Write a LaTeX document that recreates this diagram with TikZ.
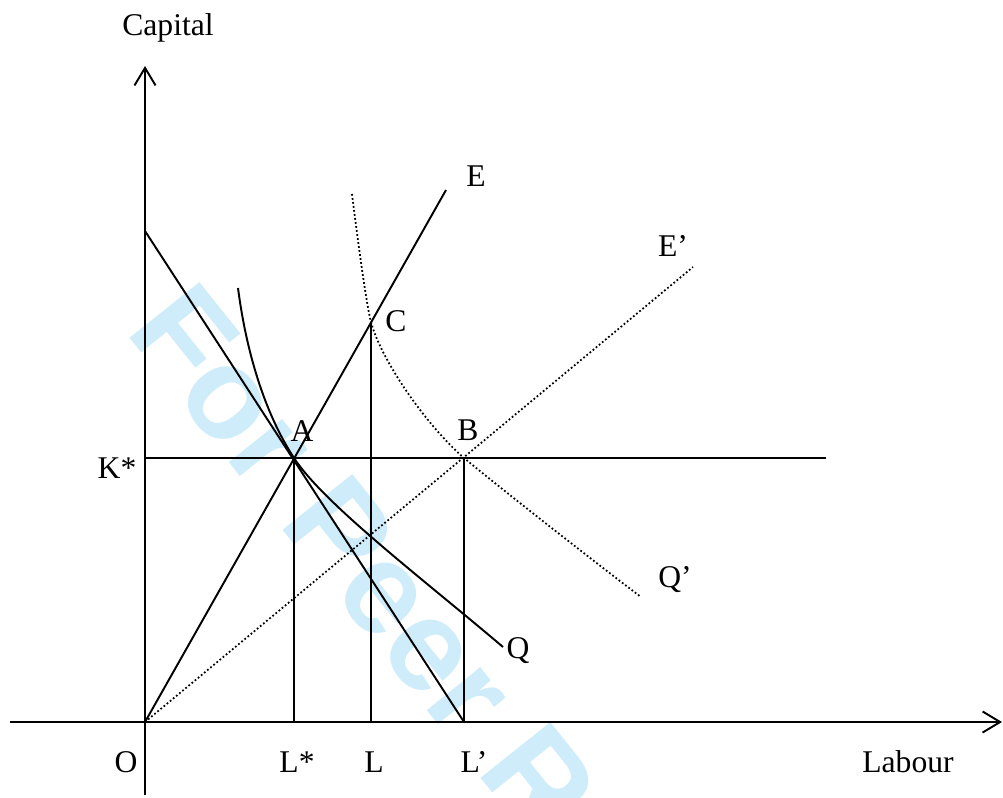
\documentclass[tikz,border=0pt]{standalone}
\usepackage{fontspec}
\setmainfont{Liberation Serif}
\newfontfamily\wmfont{Liberation Sans}
\usetikzlibrary{arrows.meta}
\definecolor{peerblue}{RGB}{207,236,250}

\begin{document}
\begin{tikzpicture}[x=0.02cm, y=-0.02cm, >={Straight Barb[length=10pt,width=12pt]},
  every node/.style={font=\fontsize{18}{20}\selectfont, inner sep=0pt},
  solid line/.style={line width=1.1pt},
  dot line/.style={line width=1pt, dash pattern=on 1pt off 1.3pt}]
\useasboundingbox (0,0) rectangle (1003,797);
% --- Watermark ---
\begin{scope}
\clip (0,0) rectangle (1003,797);
\node[text=peerblue, font=\wmfont\bfseries\fontsize{74}{74}\selectfont,
  rotate=-51.4, anchor=base west] (wm) at (124,331) {For Peer Review};
\end{scope}
% --- Axes ---
\coordinate (O) at (145,722);
\coordinate (Xa) at (10,722); \coordinate (Xb) at (1002,722);
\coordinate (Ya) at (145,795); \coordinate (Yb) at (145,66);
\draw[solid line,->] (Xa) -- (Xb);
\draw[solid line,->] (Ya) -- (Yb);
% --- Points ---
\coordinate (A) at (294,458); \coordinate (B) at (464,458);
\coordinate (C) at (371,322);
\coordinate (E) at (446,190); \coordinate (Ep) at (693,267);
\coordinate (K) at (145,458); \coordinate (Kend) at (826,458);
\coordinate (Ls) at (294,722); \coordinate (L) at (371,722);
\coordinate (Lp) at (464,722); \coordinate (Top) at (145,231);
\coordinate (Qa) at (238,288); \coordinate (Qb) at (503,647);
\coordinate (Qpa) at (352,194); \coordinate (Qpb) at (641,597);
% --- Lines ---
\draw[solid line] (Top) -- (Lp);
\draw[solid line] (O) -- (E);
\draw[dot line] (O) -- (Ep);
\draw[solid line] (K) -- (Kend);
\draw[solid line] (A) -- (Ls);
\draw[solid line] (C) -- (L);
\draw[solid line] (B) -- (Lp);
% --- Isoquants ---
\draw[solid line] (Qa) .. controls (246,350) and (264,412) .. (A)
  .. controls (324,504) and (423,579) .. (Qb);
\draw[dot line] (Qpa) .. controls (357,234) and (366,303) .. (C)
  .. controls (381,360) and (426,425) .. (B)
  .. controls (510,496) and (609,573) .. (Qpb);
% --- Labels ---
\foreach \n/\lab/\x/\y in {lCap/Capital/168/28, lLab/Labour/908/762, lO/O/126/762,
  lLs/L*/297/762, lL/L/374/762, lLp/L’/474/762, lK/K*/117/468,
  lA/A/302/431, lB/B/468/430, lC/C/396/321, lE/E/476/176, lEp/E’/673/246,
  lQ/Q/518/651, lQp/Q’/675/580}
  {\node (\n) at (\x,\y) {\lab};}
\end{tikzpicture}
\end{document}
